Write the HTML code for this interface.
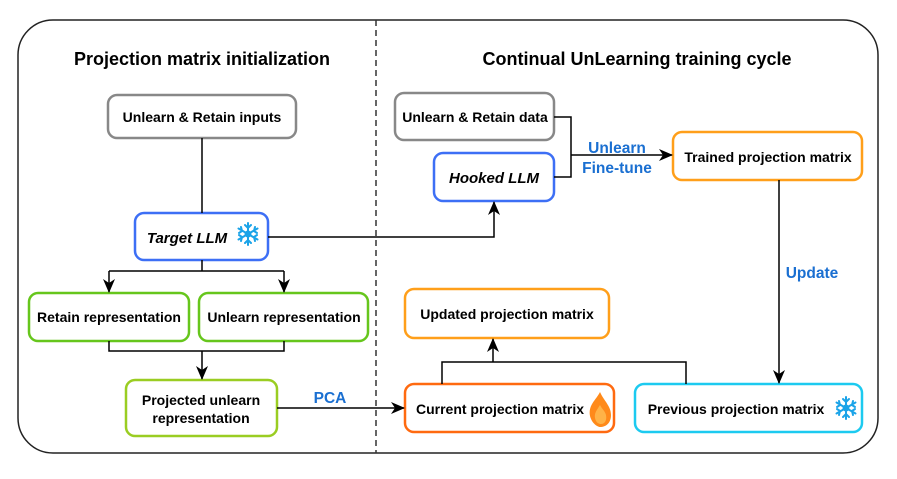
<!DOCTYPE html>
<html><head><style>
body{margin:0;background:#fff;}
svg text{font-family:"Liberation Sans",Arial,sans-serif;font-weight:bold;}
</style></head><body>
<svg width="897" height="474" viewBox="0 0 897 474" xmlns="http://www.w3.org/2000/svg">
<defs>
<marker id="a" markerWidth="14" markerHeight="12" refX="13" refY="6" orient="auto" markerUnits="userSpaceOnUse">
<path d="M0,0 L14,6 L0,12 L4,6 z" fill="#000"/></marker>
<g id="flake" stroke="#1aa3e8" stroke-width="2" fill="none" stroke-linecap="round">
<line x1="0" y1="-11" x2="0" y2="11"/><line x1="-9.5" y1="-5.5" x2="9.5" y2="5.5"/><line x1="-9.5" y1="5.5" x2="9.5" y2="-5.5"/>
<path d="M-3,-9 L0,-6 L3,-9 M-3,9 L0,6 L3,9 M-9,-1 L-6,-3 L-7,-7 M9,1 L6,3 L7,7 M-9,1 L-6,3 L-7,7 M9,-1 L6,-3 L7,-7"/>
<circle r="2.5"/></g>
</defs>
<rect x="18" y="20" width="860" height="433" rx="35" fill="none" stroke="#222" stroke-width="1.5"/>
<line x1="376" y1="20" x2="376" y2="453" stroke="#333" stroke-width="1.5" stroke-dasharray="6,4"/>
<text x="202" y="65" font-size="18" text-anchor="middle">Projection matrix initialization</text>
<text x="637" y="65" font-size="18" text-anchor="middle">Continual UnLearning training cycle</text>
<g fill="#fff" stroke-width="2.5">
<rect x="108" y="95" width="188" height="43" rx="9" stroke="#888"/>
<rect x="135" y="213" width="133" height="47" rx="9" stroke="#3d6ff5"/>
<rect x="29" y="293" width="160" height="48" rx="9" stroke="#66c61c"/>
<rect x="199" y="293" width="169" height="48" rx="9" stroke="#66c61c"/>
<rect x="126" y="380" width="151" height="56" rx="9" stroke="#9acd22"/>
<rect x="395" y="93" width="159" height="47" rx="9" stroke="#888"/>
<rect x="434" y="153" width="120" height="48" rx="9" stroke="#3d6ff5"/>
<rect x="673" y="132" width="189" height="48" rx="9" stroke="#ff9f1a"/>
<rect x="405" y="289" width="204" height="49" rx="9" stroke="#ff9f1a"/>
<rect x="405" y="384" width="209" height="48" rx="9" stroke="#ff6a10"/>
<rect x="635" y="384" width="227" height="48" rx="9" stroke="#1ccaf0"/>
</g>
<g stroke="#000" stroke-width="1.5" fill="none">
<line x1="202" y1="138" x2="202" y2="213"/>
<polyline points="202,260 202,271"/>
<line x1="109" y1="271" x2="284" y2="271"/>
<line x1="109" y1="271" x2="109" y2="292" marker-end="url(#a)"/>
<line x1="284" y1="271" x2="284" y2="292" marker-end="url(#a)"/>
<polyline points="109,341 109,351 284,351 284,341"/>
<line x1="202" y1="351" x2="202" y2="379" marker-end="url(#a)"/>
<line x1="277" y1="408" x2="404" y2="408" marker-end="url(#a)"/>
<polyline points="268,237 494,237 494,202" marker-end="url(#a)"/>
<polyline points="554,117 571,117 571,177 554,177"/>
<line x1="571" y1="155" x2="672" y2="155" marker-end="url(#a)"/>
<line x1="779" y1="180" x2="779" y2="383" marker-end="url(#a)"/>
<polyline points="442,384 442,362 686,362 686,384"/>
<line x1="493" y1="362" x2="493" y2="339" marker-end="url(#a)"/>
</g>
<g font-size="14" text-anchor="middle" fill="#000">
<text x="202" y="122">Unlearn &amp; Retain inputs</text>
<text x="187" y="243" font-style="italic" font-size="15">Target LLM</text>
<text x="109" y="322">Retain representation</text>
<text x="284" y="322">Unlearn representation</text>
<text x="201" y="405">Projected unlearn</text>
<text x="201" y="423">representation</text>
<text x="475" y="122">Unlearn &amp; Retain data</text>
<text x="494" y="183" font-style="italic" font-size="15">Hooked LLM</text>
<text x="768" y="162">Trained projection matrix</text>
<text x="507" y="319">Updated projection matrix</text>
<text x="500" y="414">Current projection matrix</text>
<text x="736" y="414">Previous projection matrix</text>
</g>
<g font-size="15.5" fill="#1a6fd1" text-anchor="middle">
<text x="330" y="403">PCA</text>
<text x="617" y="153">Unlearn</text>
<text x="617" y="173">Fine-tune</text>
<text x="812" y="278">Update</text>
</g>
<use href="#flake" x="248" y="234"/>
<use href="#flake" x="846" y="408"/>
<path d="M600,392 C596,400 588,405 590,416 C592,424 598,427 600,427 C606,427 611,423 611,415 C611,406 604,401 600,392 z" fill="#ff8a1a"/>
<path d="M600,405 C597,410 594,413 595,418 C596,423 599,424 601,424 C605,424 607,420 606,415 C605,411 602,409 600,405 z" fill="#ffb347"/>
</svg>
</body></html>
